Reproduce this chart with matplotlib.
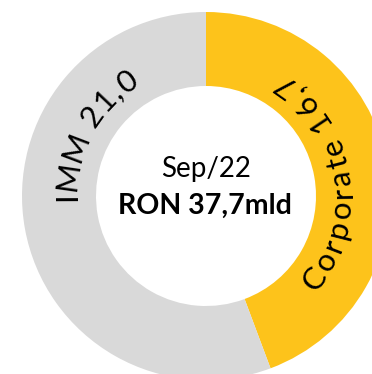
import numpy as np
import matplotlib.pyplot as plt
from matplotlib.font_manager import FontProperties

# loan book split, RON bn
segments = ['Corporate', 'IMM']
values = [16.7, 21.0]
value_labels = ['16,7', '21,0']
period = 'Sep/22'
total_label = 'RON 37,7mld'

colors = ['#FDC31B', '#D9D9D9']
font = 'Lato'

fig = plt.figure(figsize=(3.72, 3.74), dpi=100)
ax = fig.add_axes([0, 0, 1, 1])

cx, cy = 206, 178
r_out, r_in = 184, 110

ax.pie(values, colors=colors, startangle=90, counterclock=False,
       center=(cx, cy), radius=r_out,
       wedgeprops=dict(width=r_out - r_in, linewidth=0))
ax.set_xlim(0, 372)
ax.set_ylim(0, 374)
ax.set_aspect('auto')
ax.axis('off')

renderer = fig.canvas.get_renderer()


def char_widths(s, prop):
    base = renderer.get_text_width_height_descent('xx', prop, ismath=False)[0]
    out = []
    for ch in s:
        w = renderer.get_text_width_height_descent('x' + ch + 'x', prop, ismath=False)[0]
        out.append(w - base)
    return np.array(out)


def arc_text(s, r_mid, mid_deg, clockwise, size, track=2.0):
    # characters laid out along a circle of radius r_mid (letter middle);
    # baseline sits half a cap height toward the inside/outside
    prop = FontProperties(family=font, size=size)
    ws = char_widths(s, prop) + track
    cap = 0.72 * size * fig.dpi / 72.0
    span = (ws.sum() - track) / r_mid
    mid = np.radians(mid_deg)
    pos = np.cumsum(ws) - ws / 2
    r_base = r_mid - cap / 2 if clockwise else r_mid + cap / 2
    for ch, p in zip(s, pos):
        if clockwise:
            th = mid + span / 2 - p / r_mid
            rot = np.degrees(th) - 90
        else:
            th = mid - span / 2 + p / r_mid
            rot = np.degrees(th) + 90
        ax.text(cx + r_base * np.cos(th), cy + r_base * np.sin(th), ch,
                fontproperties=prop, rotation=rot, rotation_mode='anchor',
                ha='center', va='baseline', color='black')


arc_text(f'{segments[0]} {value_labels[0]}', 134, 8, False, 22.5)
arc_text(f'{segments[1]} {value_labels[1]}', 141, 152, True, 22.5)

ax.text(cx, 197, period, ha='center', va='baseline', fontsize=20,
        family=font, color='black')
ax.text(cx - 1, 160, total_label, ha='center', va='baseline', fontsize=20.5,
        family=font, weight='bold', color='black')

plt.savefig('out.png', dpi=100)
